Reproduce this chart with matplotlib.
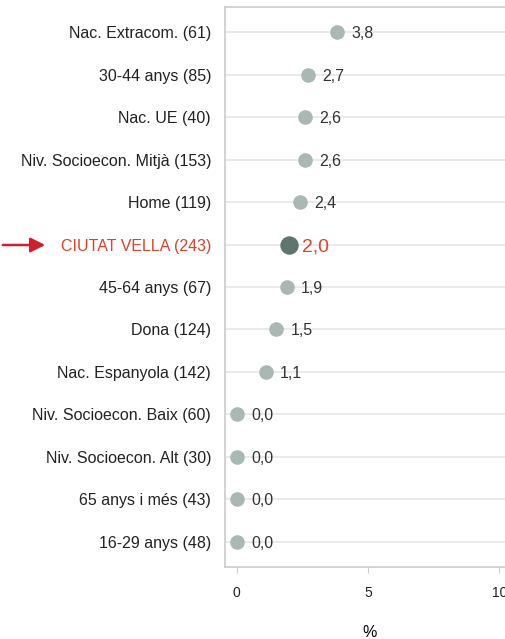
import matplotlib.pyplot as plt

plt.rcParams['font.family'] = ['Liberation Sans', 'DejaVu Sans']

categories = ['Nac. Extracom. (61)', '30-44 anys (85)', 'Nac. UE (40)',
              'Niv. Socioecon. Mitjà (153)', 'Home (119)', 'CIUTAT VELLA (243)',
              '45-64 anys (67)', 'Dona (124)', 'Nac. Espanyola (142)',
              'Niv. Socioecon. Baix (60)', 'Niv. Socioecon. Alt (30)',
              '65 anys i més (43)', '16-29 anys (48)']
values = [3.8, 2.7, 2.6, 2.6, 2.4, 2.0, 1.9, 1.5, 1.1, 0.0, 0.0, 0.0, 0.0]
highlight = 'CIUTAT VELLA (243)'
xticks = [0, 5, 10]

fig = plt.figure(figsize=(5.05, 6.39), dpi=100)
ax = fig.add_axes([225 / 505, 1 - 567 / 639, 290 / 505, 560 / 639])

grey = '#a9b8b2'
dark = '#5e766d'
red = '#e0402a'

ypos = list(range(len(categories)))
for y, cat, v in zip(ypos, categories, values):
    ax.axhline(y, color='#e6e6e6', lw=1.2, zorder=1)
    if cat == highlight:
        ax.scatter(v, y, s=175, color=dark, zorder=3, lw=0)
        ax.text(v + 0.5, y, f'{v:.1f}'.replace('.', ','), color=red,
                fontsize=14, va='center_baseline', ha='left')
    else:
        ax.scatter(v, y, s=110, color=grey, zorder=3, lw=0)
        ax.text(v + 0.55, y, f'{v:.1f}'.replace('.', ','), color='#333333',
                fontsize=11.5, va='center_baseline', ha='left')

ax.set_ylim(len(categories) - 0.4, -0.6)
ax.set_xlim(-0.45, 10.6)
ax.set_yticks(ypos)
ax.set_yticklabels(categories, fontsize=11.5)
for lab in ax.get_yticklabels():
    lab.set_color(red if lab.get_text() == highlight else '#222222')
ax.tick_params(axis='y', length=0, pad=10)

ax.set_xticks(xticks)
ax.set_xticklabels([str(t) for t in xticks], fontsize=10, color='#222222')
ax.tick_params(axis='x', length=4, color='#cccccc', pad=10)
ax.set_xlabel('%', fontsize=11.5, labelpad=18)

for s in ['left', 'bottom', 'top', 'right']:
    ax.spines[s].set_color('#cccccc')
    ax.spines[s].set_linewidth(1.2)

# red arrow pointing at the highlighted row
hy = 1 - (245 / 639)
fig.patches.append(plt.matplotlib.patches.FancyArrowPatch(
    (0.0, hy), (48 / 505, hy), transform=fig.transFigure,
    arrowstyle='-|>', mutation_scale=22, color='#d0202f', lw=1.8))

fig.savefig('out.png', dpi=100)
